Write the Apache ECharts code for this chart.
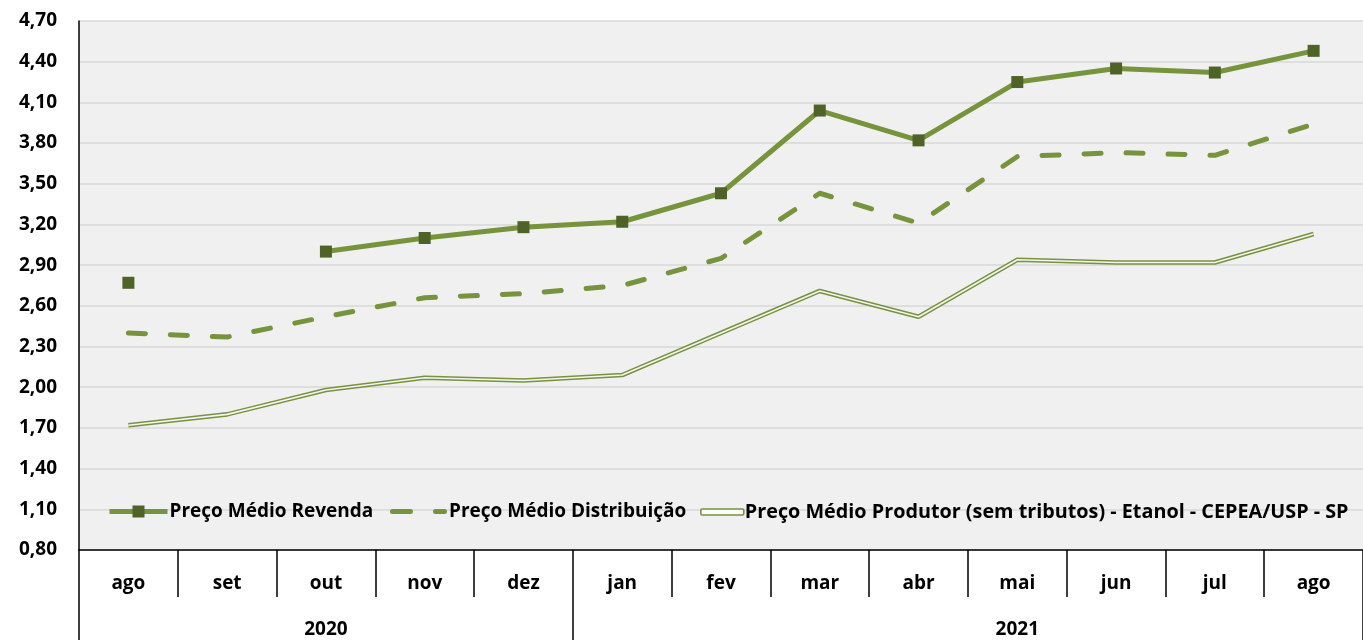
<!DOCTYPE html>
<html><head><meta charset="utf-8">
<script src="https://cdn.jsdelivr.net/npm/echarts@6/dist/echarts.min.js"></script>
<style>html,body{margin:0;padding:0;background:#fff}#c{width:1363px;height:640px}</style>
</head><body><div id="c"></div>
<script>
const months = ['ago','set','out','nov','dez','jan','fev','mar','abr','mai','jun','jul','ago'];
const years = ['', '', '2020', '', '', '', '', '', '', '2021', '', '', ''];
const yearBreaks = [0, 5];
const yTicks = [0.8, 1.1, 1.4, 1.7, 2.0, 2.3, 2.6, 2.9, 3.2, 3.5, 3.8, 4.1, 4.4, 4.7];
const revenda = [2.77, null, 3.00, 3.10, 3.18, 3.22, 3.43, 4.04, 3.82, 4.25, 4.35, 4.32, 4.48];
const distribuicao = [2.40, 2.37, 2.52, 2.66, 2.69, 2.75, 2.95, 3.43, 3.21, 3.70, 3.73, 3.71, 3.94];
const produtor = [1.72, 1.80, 1.98, 2.07, 2.05, 2.09, 2.40, 2.71, 2.52, 2.94, 2.92, 2.92, 3.13];
const names = ['Preço Médio Revenda', 'Preço Médio Distribuição', 'Preço Médio Produtor (sem tributos) - Etanol - CEPEA/USP - SP'];

const GREEN = '#77933c', DARK = '#4f6228', FONT = 'Open Sans', FS = 19;
const legendText = {fontFamily: FONT, fontWeight: 'bold', fontSize: FS, color: '#000', padding: [0, 0, 0, -3]};
const dashIcon = 'path://M2.5,0 H20.5 A2.5,2.5 0 0 1 20.5,5 H2.5 A2.5,2.5 0 0 1 2.5,0 Z M45.5,0 H54.5 A2.5,2.5 0 0 1 54.5,5 H45.5 A2.5,2.5 0 0 1 45.5,0 Z';
const chart = echarts.init(document.getElementById('c'), null, {renderer: 'canvas'});
chart.setOption({
  animation: false,
  backgroundColor: '#ffffff',
  textStyle: {fontFamily: FONT, fontWeight: 'bold', color: '#000'},
  grid: {left: 79, top: 21, width: 1292, height: 529, show: true, backgroundColor: '#f0f0f0', borderWidth: 0},
  legend: [{
    data: [{name: names[0]}],
    left: 107, top: 502, padding: 0, itemWidth: 58, itemHeight: 15,
    textStyle: legendText, lineStyle: {width: 5}
  }, {
    data: [{name: names[1], icon: dashIcon, itemStyle: {color: GREEN}}],
    left: 390, top: 502, padding: 0, itemWidth: 57, itemHeight: 14,
    textStyle: legendText
  }, {
    data: [{name: names[2], icon: 'roundRect', itemStyle: {color: '#fff', borderColor: GREEN, borderWidth: 1.6}}],
    left: 700, top: 502, padding: 0, itemWidth: 43, itemHeight: 6,
    textStyle: Object.assign({}, legendText, {fontSize: 19.8, padding: [0, 0, 0, -4]})
  }],
  xAxis: [{
    type: 'category', data: months, position: 'bottom', boundaryGap: true,
    axisLine: {lineStyle: {color: '#000', width: 1.5}},
    axisTick: {show: true, interval: 0, length: 47, lineStyle: {color: '#000', width: 1.5}},
    axisLabel: {interval: 0, margin: 24, fontSize: FS, fontWeight: 'bold', color: '#000', fontFamily: FONT}
  }, {
    type: 'category', data: months, position: 'bottom', offset: 47, boundaryGap: true,
    axisLine: {show: false},
    axisTick: {show: true, length: 45, interval: (i) => yearBreaks.indexOf(i) >= 0, lineStyle: {color: '#000', width: 1.5}},
    axisLabel: {interval: 0, margin: 23, fontSize: FS, fontWeight: 'bold', color: '#000', fontFamily: FONT,
      formatter: (v, i) => years[i]}
  }],
  yAxis: {
    type: 'value', min: 0.8, max: 4.7,
    axisLine: {show: true, lineStyle: {color: '#000', width: 1.5}},
    axisTick: {show: false, customValues: yTicks},
    axisLabel: {customValues: yTicks, margin: 22, fontSize: FS, fontWeight: 'bold', color: '#000', fontFamily: FONT,
      formatter: (v) => v.toFixed(2).replace('.', ',')},
    splitLine: {show: true, lineStyle: {color: '#d9d9d9', width: 1.5}}
  },
  series: [{
    name: names[2], type: 'line', data: produtor, symbol: 'none', z: 2,
    itemStyle: {color: GREEN},
    lineStyle: {color: GREEN, width: 4.6}
  }, {
    name: 'produtorInner', type: 'line', data: produtor, symbol: 'none', z: 3, silent: true,
    itemStyle: {color: '#f4f4f4'},
    lineStyle: {color: '#f4f4f4', width: 1.6}
  }, {
    name: names[1], type: 'line', data: distribuicao, symbol: 'none', z: 4,
    itemStyle: {color: GREEN},
    lineStyle: {color: GREEN, width: 5, type: [17, 25], cap: 'round', join: 'round'}
  }, {
    name: names[0], type: 'line', data: revenda, symbol: 'rect', symbolSize: 12, z: 5,
    connectNulls: false,
    itemStyle: {color: DARK},
    lineStyle: {color: GREEN, width: 5}
  }]
});
</script></body></html>
